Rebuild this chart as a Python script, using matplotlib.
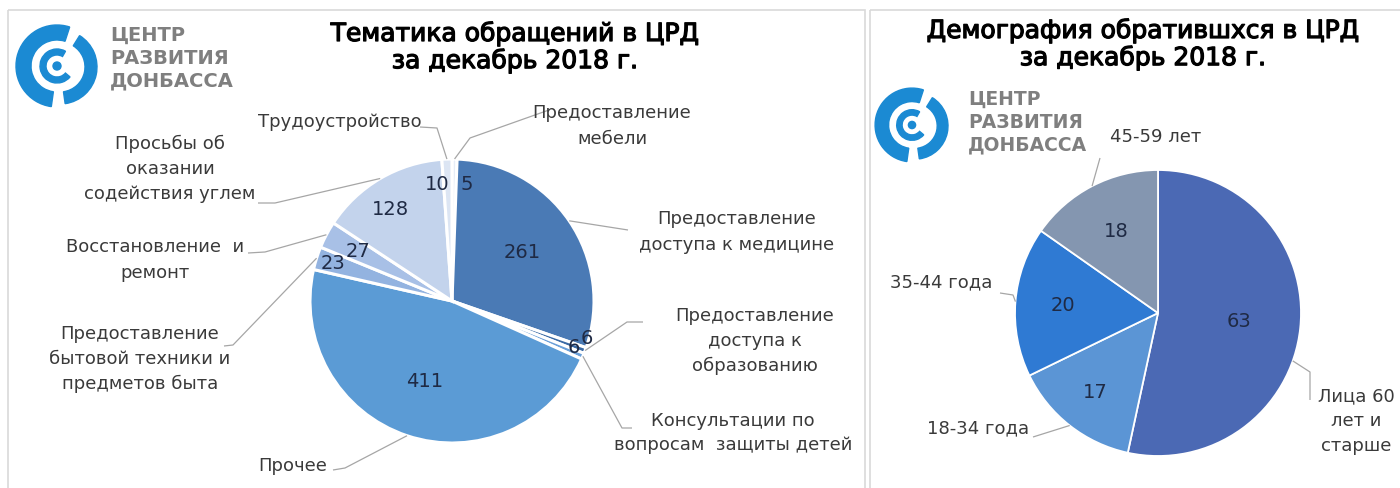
import numpy as np
import matplotlib
matplotlib.use('Agg')
import matplotlib.pyplot as plt
from matplotlib.patches import Wedge, Circle, Rectangle
import matplotlib.patheffects as pe

plt.rcParams['font.family'] = ['DejaVu Sans']

# --- data: topics (left pie), clockwise from 12 o'clock
topic_labels = ['Предоставление\nмебели',
                'Предоставление\nдоступа к медицине',
                'Предоставление\nдоступа к\nобразованию',
                'Консультации по\nвопросам  защиты детей',
                'Прочее',
                'Предоставление\nбытовой техники и\nпредметов быта',
                'Восстановление  и\nремонт',
                'Просьбы об\nоказании\nсодействия углем',
                'Трудоустройство']
topic_values = [5, 261, 6, 6, 411, 23, 27, 128, 10]
topic_colors = ['#e6edf7', '#4a7ab5', '#3a6aa5', '#6a9fd8', '#5b9bd5',
                '#93b3e0', '#a8c0e6', '#c3d3ec', '#dce5f3']

# --- data: demography (right pie)
age_labels = ['Лица 60\nлет и\nстарше', '18-34 года', '35-44 года', '45-59 лет']
age_values = [63, 17, 20, 18]
age_colors = ['#4b69b4', '#5b95d5', '#2f7ad3', '#8496b0']

title_left = 'Тематика обращений в ЦРД\nза декабрь 2018 г.'
title_right = 'Демография обратившхся в ЦРД\nза декабрь 2018 г.'
logo_text = 'ЦЕНТР\nРАЗВИТИЯ\nДОНБАССА'

W, H = 1400, 488
fig = plt.figure(figsize=(14, 4.88), dpi=100)
ax = fig.add_axes([0, 0, 1, 1])

LINE = '#a6a6a6'
TXT = '#3a3a3a'
VAL = '#1f2a44'


def draw_pie(values, colors, center, r, explode, lw, val_r, val_off,
             labels, lab_pos, knees, anchor_frac, lab_size, val_size):
    wedges, _ = ax.pie(values, colors=colors, startangle=-90, counterclock=True,
                       center=center, radius=r, explode=explode,
                       wedgeprops=dict(edgecolor='white', linewidth=lw))
    for i, w in enumerate(wedges):
        cx, cy = w.center
        mid = np.radians((w.theta1 + w.theta2) / 2)
        # value label
        dx, dy, ha = val_off[i]
        ax.text(cx + val_r[i] * r * np.cos(mid) + dx, cy + val_r[i] * r * np.sin(mid) + dy,
                str(values[i]), ha=ha, va='center', fontsize=val_size, color=VAL)
        # category label + leader
        a = np.radians(w.theta1 + anchor_frac[i] * (w.theta2 - w.theta1))
        ax_, ay_ = cx + r * np.cos(a), cy + r * np.sin(a)
        pts = [(ax_, ay_)] + knees[i]
        xs, ys = zip(*pts)
        ax.plot(xs, ys, color=LINE, lw=0.9, solid_capstyle='butt')
        ax.text(lab_pos[i][0], lab_pos[i][1], labels[i], ha='center', va='center',
                fontsize=lab_size, color=TXT, linespacing=1.5)


def draw_logo(cx, cy, s, tx, ty, fs):
    blue = '#1b8ad3'
    ax.add_patch(Wedge((cx, cy), 41 * s, -262, -72, width=15 * s, color=blue))
    ax.add_patch(Wedge((cx + 3 * s, cy + 1 * s), 37 * s, -58, 82, width=12 * s, color=blue))
    ax.add_patch(Wedge((cx, cy), 17 * s, 40, 300, width=6 * s, color=blue))
    ax.add_patch(Circle((cx, cy), 4 * s, color=blue))
    ax.text(tx, ty, logo_text, ha='left', va='center', fontsize=fs,
            fontweight='bold', color='#7f7f7f', linespacing=1.25)


# panel frames
ax.add_patch(Rectangle((8, 10), 857, 490, fill=False, ec='#d9d9d9', lw=1.2))
ax.add_patch(Rectangle((870, 10), 540, 490, fill=False, ec='#d9d9d9', lw=1.2))

# left pie
draw_pie(topic_values, topic_colors, (452, 301), 142, [0.015] * 9, 2.2,
         val_r=[0.82, 0.6, 1.0, 0.93, 0.6, 0.88, 0.75, 0.75, 0.82],
         val_off=[(6, 0, 'left'), (0, 0, 'center'), (2, -12, 'center'), (0, -5, 'center'),
                  (0, 0, 'center'), (0, 0, 'center'), (0, 0, 'center'), (-8, 0, 'center'),
                  (2, 0, 'right')],
         labels=topic_labels,
         lab_pos=[(612, 126), (737, 232), (755, 341), (733, 433), (293, 466),
                  (140, 359), (155, 260), (170, 169), (340, 122)],
         knees=[[(470, 138), (549, 110)], [(628, 230)], [(627, 322), (643, 322)],
                [(622, 428), (632, 428)], [(345, 468), (333, 470)],
                [(233, 345), (224, 346)], [(265, 252), (248, 253)],
                [(275, 203), (258, 203)], [(437, 128), (420, 127)]],
         anchor_frac=[0.5] * 9, lab_size=13, val_size=14)

# right pie
draw_pie(age_values, age_colors, (1158, 313), 143, None, 1.3,
         val_r=[0.57, 0.71, 0.67, 0.64],
         val_off=[(0, 0, 'center')] * 4,
         labels=age_labels,
         lab_pos=[(1356, 421), (978, 428), (941, 282), (1156, 137)],
         knees=[[(1310, 372), (1310, 400)], [(1033, 437)],
                [(1013, 295), (1000, 293)], [(1100, 158)]],
         anchor_frac=[0.57, 0.5, 0.5, 0.5], lab_size=13, val_size=14)

# titles
for x, y, t in [(515, 47, title_left), (1143, 44, title_right)]:
    ax.text(x, y, t, ha='center', va='center', fontsize=18, color='black',
            linespacing=1.1, path_effects=[pe.withStroke(linewidth=0.9, foreground='black')])

# logos
draw_logo(57, 66, 1.0, 110, 58, 14)
draw_logo(912, 125, 0.9, 968, 122, 13.5)

ax.set_xlim(0, W)
ax.set_ylim(H, 0)
ax.set_axis_off()

fig.savefig('out.png', dpi=100, facecolor='white')
